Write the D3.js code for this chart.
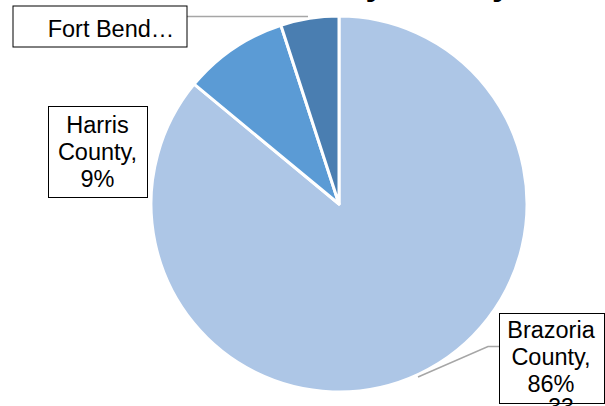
<!DOCTYPE html>
<html>
<head>
<meta charset="utf-8">
<script src="https://cdn.jsdelivr.net/npm/d3@7/dist/d3.min.js"></script>
<style>
  html, body { margin: 0; padding: 0; background: #fff; }
  svg { display: block; font-family: "Liberation Sans", Arial, sans-serif; }
</style>
</head>
<body>
<svg id="chart" width="605" height="406"></svg>
<script>
// Share of records by county
const counties = ["Brazoria County", "Harris County", "Fort Bend County"];
const shares = [86, 9, 5];
const colors = ["#adc6e6", "#5b9bd5", "#4a7eb1"];
const labelLines = [["Brazoria", "County,", "86%"], ["Harris", "County,", "9%"], ["Fort Bend…"]];
const titleText = "Distribution by County";
const pageNumber = "33";

const svg = d3.select("#chart");
const cx = 339, cy = 204, r = 188;

// Title sits above the top edge; only its descenders reach the page
svg.append("text")
  .attr("x", 511).attr("y", -5)
  .attr("text-anchor", "end")
  .attr("font-size", 34).attr("font-weight", "bold")
  .attr("fill", "#000")
  .text(titleText);

const data = counties.map((c, i) => ({ county: c, value: shares[i], color: colors[i], lines: labelLines[i] }));

const pie = d3.pie().value(d => d.value).sort(null);
const arc = d3.arc().innerRadius(0).outerRadius(r);

const g = svg.append("g").attr("transform", `translate(${cx},${cy})`);
g.selectAll("path")
  .data(pie(data))
  .join("path")
  .attr("d", arc)
  .attr("fill", d => d.data.color)
  .attr("stroke", "#fff")
  .attr("stroke-width", 3)
  .attr("stroke-linejoin", "round");

// Leader lines
const leader = d3.line();
svg.append("path")
  .attr("d", leader([[186, 16.5], [308, 16.5]]))
  .attr("fill", "none").attr("stroke", "#a6a6a6").attr("stroke-width", 1.5);
svg.append("path")
  .attr("d", leader([[418, 377], [488, 346.5], [499, 346.5]]))
  .attr("fill", "none").attr("stroke", "#a6a6a6").attr("stroke-width", 1.5);

// Label boxes
const boxes = [
  { x: 499, y: 313, w: 105, h: 90, cx: 551, base: 338 },
  { x: 48, y: 106, w: 99, h: 91, cx: 97.5, base: 133 },
  { x: 12.5, y: 5.5, w: 174, h: 41, cx: 111, base: 37 }
];
const lineH = 27;
data.forEach((d, i) => {
  const b = boxes[i];
  svg.append("rect")
    .attr("x", b.x + 0.5).attr("y", b.y + 0.5)
    .attr("width", b.w).attr("height", b.h)
    .attr("fill", "#fff").attr("stroke", "#000").attr("stroke-width", 1);
  const t = svg.append("text")
    .attr("text-anchor", "middle")
    .attr("font-size", 23.5)
    .attr("fill", "#000");
  d.lines.forEach((ln, k) => {
    t.append("tspan").attr("x", b.cx).attr("y", b.base + k * lineH).text(ln);
  });
});

// Page number
svg.append("text")
  .attr("x", 561).attr("y", 415)
  .attr("text-anchor", "middle")
  .attr("font-size", 23)
  .attr("fill", "#000")
  .text(pageNumber);
</script>
</body>
</html>
